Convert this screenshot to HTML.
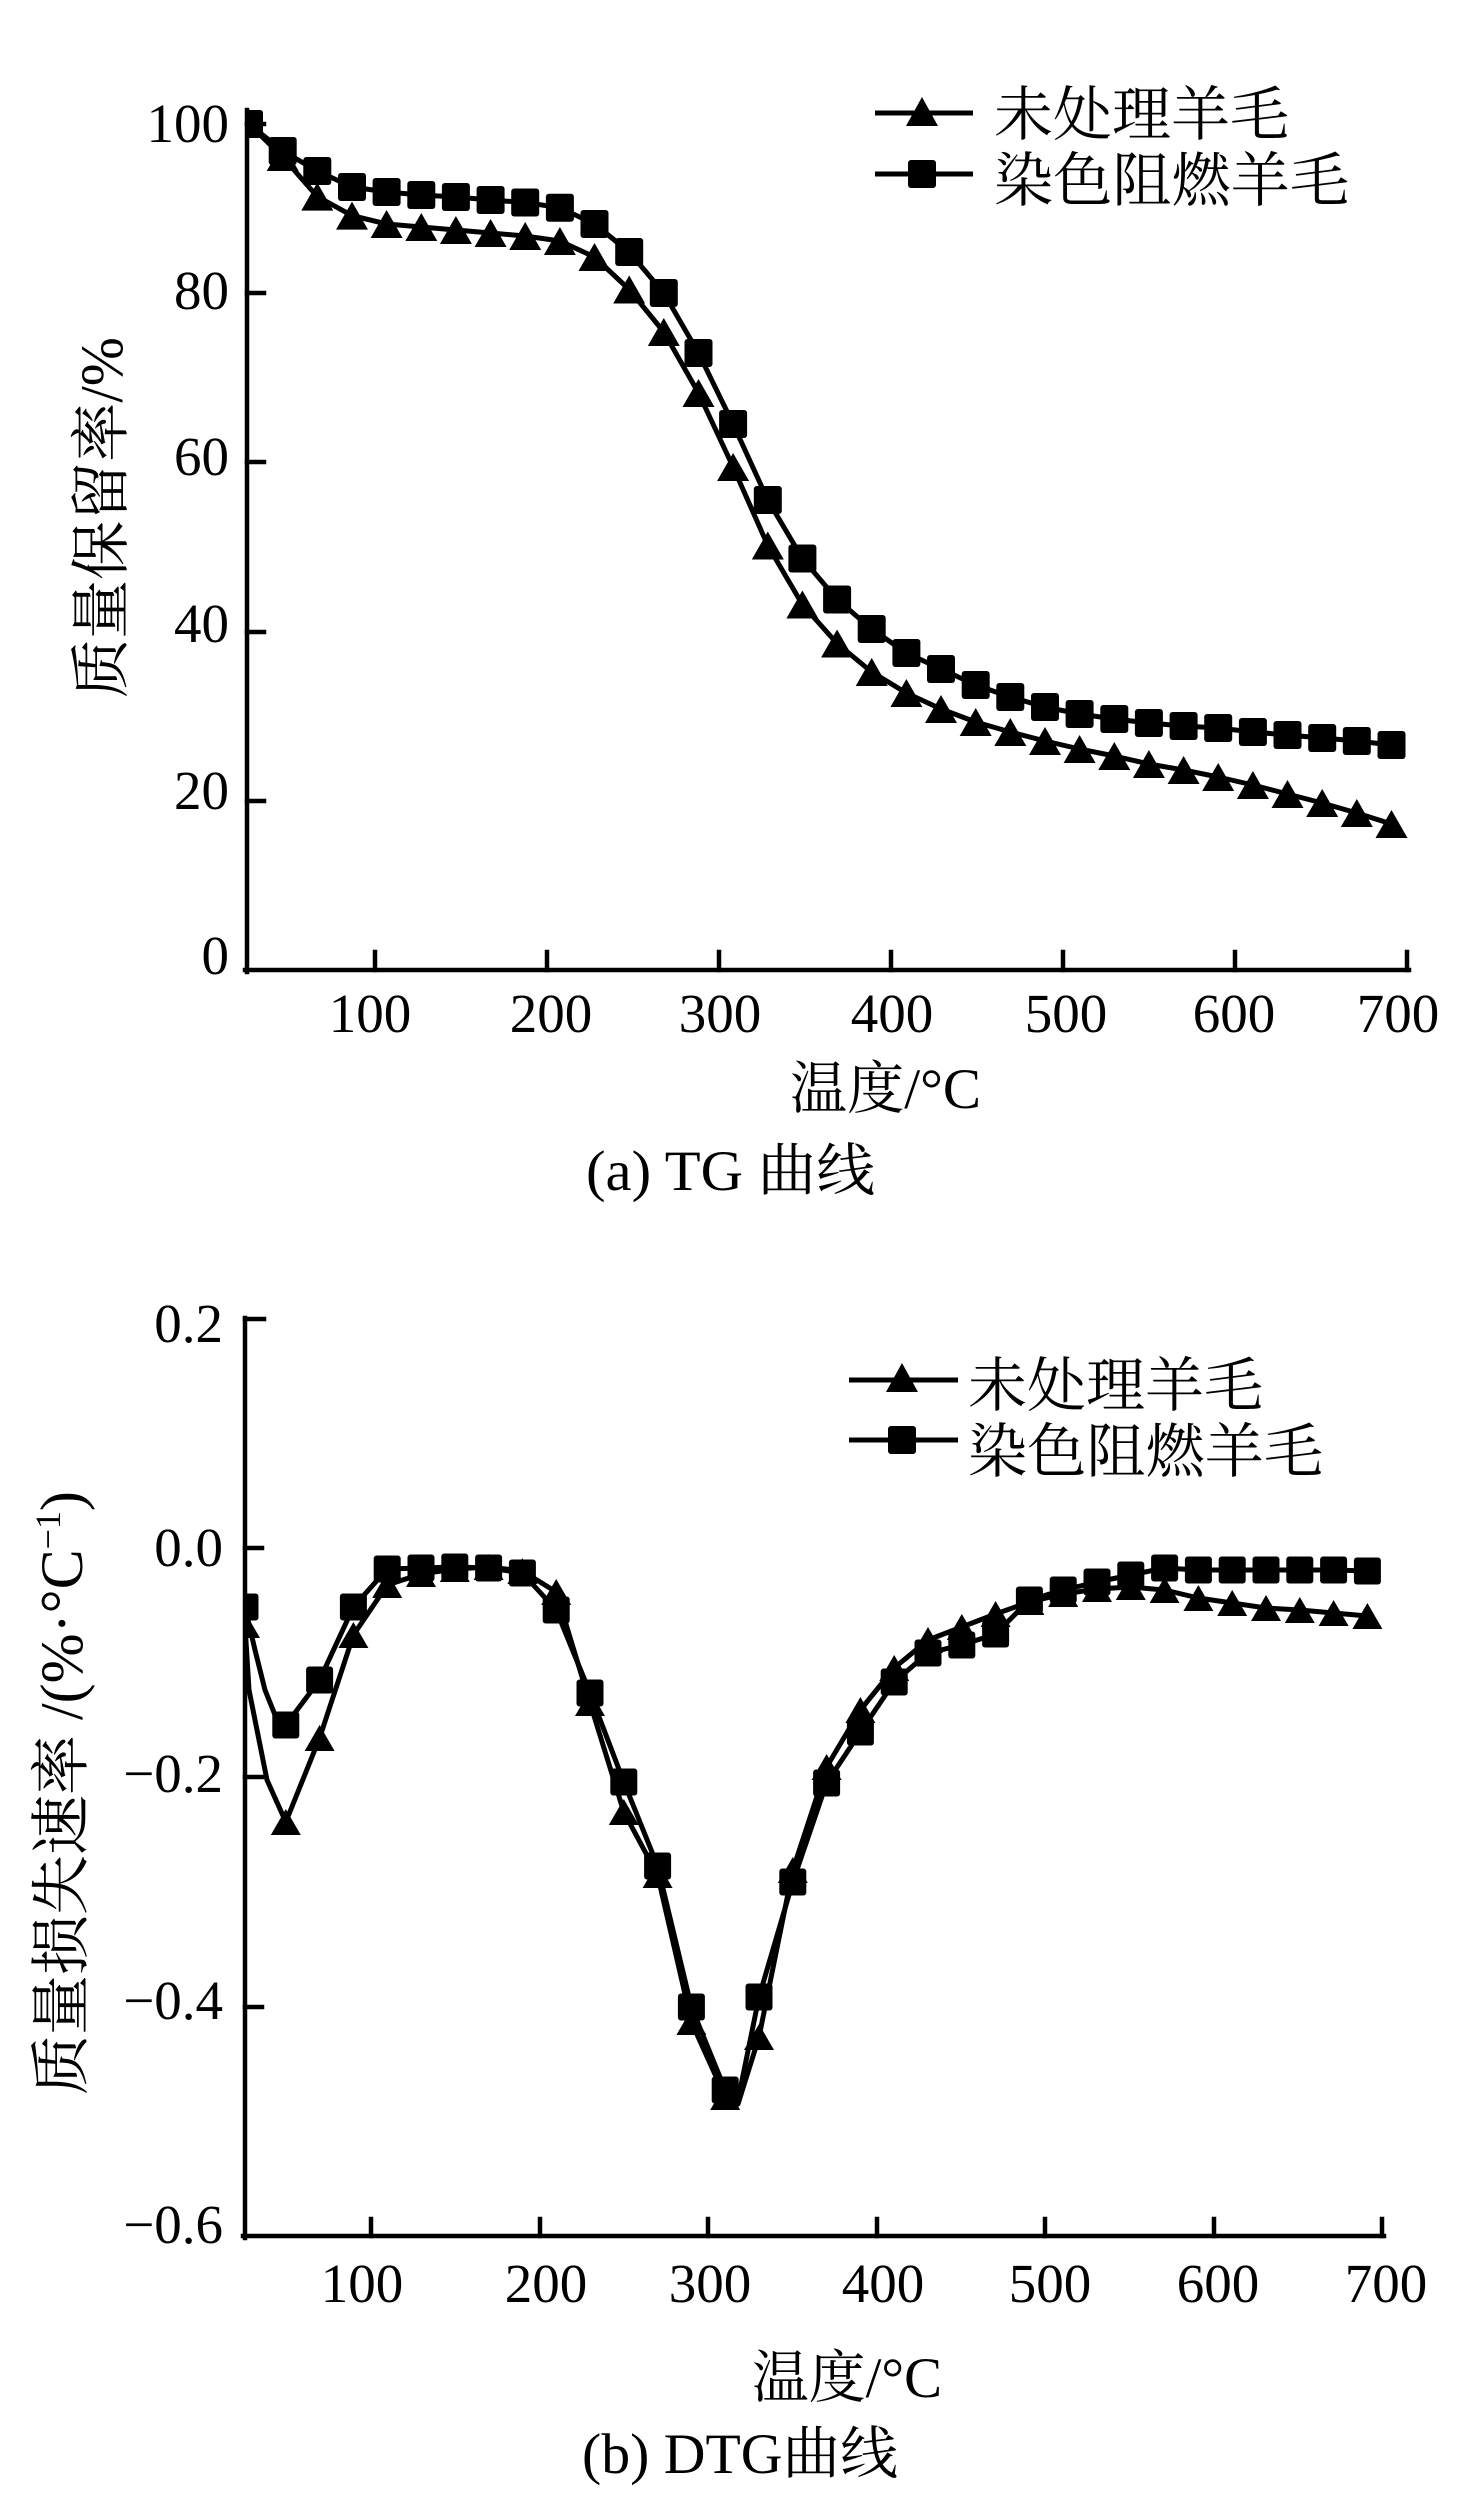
<!DOCTYPE html>
<html><head><meta charset="utf-8"><style>
html,body{margin:0;padding:0;background:#fff;}
svg{display:block;}
.t{font-family:"Liberation Serif","Noto Serif CJK SC",serif;fill:#000;}
</style></head><body>
<svg width="1467" height="2520" viewBox="0 0 1467 2520" xmlns="http://www.w3.org/2000/svg">
<rect width="1467" height="2520" fill="#fff"/>
<defs>
<clipPath id="c1"><rect x="245" y="60" width="1200" height="912"/></clipPath>
<clipPath id="c2"><rect x="244" y="1300" width="1200" height="938"/></clipPath>
</defs>

<!-- ================= TG CHART ================= -->
<g stroke="#000" stroke-width="4.5" fill="none" stroke-linecap="square">
<line x1="247" y1="110" x2="247" y2="972"/>
<line x1="245" y1="970" x2="1409" y2="970"/>
<line x1="247" y1="124" x2="264" y2="124"/>
<line x1="247" y1="293" x2="264" y2="293"/>
<line x1="247" y1="462" x2="264" y2="462"/>
<line x1="247" y1="632" x2="264" y2="632"/>
<line x1="247" y1="801" x2="264" y2="801"/>
<line x1="375" y1="970" x2="375" y2="952"/>
<line x1="547" y1="970" x2="547" y2="952"/>
<line x1="719" y1="970" x2="719" y2="952"/>
<line x1="891" y1="970" x2="891" y2="952"/>
<line x1="1063" y1="970" x2="1063" y2="952"/>
<line x1="1235" y1="970" x2="1235" y2="952"/>
<line x1="1407" y1="970" x2="1407" y2="952"/>
</g>
<g class="t" font-size="55" text-anchor="end">
<text x="229" y="142">100</text>
<text x="229" y="309">80</text>
<text x="229" y="475">60</text>
<text x="229" y="642">40</text>
<text x="229" y="809">20</text>
<text x="229" y="974">0</text>
</g>
<g class="t" font-size="55" text-anchor="middle">
<text x="370" y="1032">100</text>
<text x="551" y="1032">200</text>
<text x="720" y="1032">300</text>
<text x="892" y="1032">400</text>
<text x="1066" y="1032">500</text>
<text x="1234" y="1032">600</text>
<text x="1398" y="1032">700</text>
</g>
<text class="t" font-size="60" transform="translate(122,698) rotate(-90)" textLength="361" lengthAdjust="spacingAndGlyphs">质量保留率/%</text>
<text class="t" font-size="57" x="790" y="1108" textLength="191" lengthAdjust="spacingAndGlyphs">温度/°C</text>
<text class="t" font-size="57" x="586" y="1190" textLength="289" lengthAdjust="spacingAndGlyphs">(a) TG 曲线</text>

<g clip-path="url(#c1)">
<polyline fill="none" stroke="#000" stroke-width="5" stroke-linejoin="round" points="249,124 282.7,157 317.3,196.6 352,215.6 386.6,224 421.3,227 455.9,230 490.6,233 525.2,236 559.9,241 594.5,257 629.2,289.5 663.8,332 698.5,393 733.1,467 767.8,545.5 802.4,604.5 837.1,643.5 871.7,672 906.4,693 941,709 975.7,722 1010.3,732 1045,741 1079.6,749 1114.3,756 1148.9,764 1183.6,770 1218.2,777 1252.9,785 1287.5,794 1322.2,803 1356.8,813 1391.5,824"/>
<g fill="#000">
<path transform="translate(249,124)" d="M0,-14L16,14H-16Z"/>
<path transform="translate(282.7,157)" d="M0,-14L16,14H-16Z"/>
<path transform="translate(317.3,196.6)" d="M0,-14L16,14H-16Z"/>
<path transform="translate(352,215.6)" d="M0,-14L16,14H-16Z"/>
<path transform="translate(386.6,224)" d="M0,-14L16,14H-16Z"/>
<path transform="translate(421.3,227)" d="M0,-14L16,14H-16Z"/>
<path transform="translate(455.9,230)" d="M0,-14L16,14H-16Z"/>
<path transform="translate(490.6,233)" d="M0,-14L16,14H-16Z"/>
<path transform="translate(525.2,236)" d="M0,-14L16,14H-16Z"/>
<path transform="translate(559.9,241)" d="M0,-14L16,14H-16Z"/>
<path transform="translate(594.5,257)" d="M0,-14L16,14H-16Z"/>
<path transform="translate(629.2,289.5)" d="M0,-14L16,14H-16Z"/>
<path transform="translate(663.8,332)" d="M0,-14L16,14H-16Z"/>
<path transform="translate(698.5,393)" d="M0,-14L16,14H-16Z"/>
<path transform="translate(733.1,467)" d="M0,-14L16,14H-16Z"/>
<path transform="translate(767.8,545.5)" d="M0,-14L16,14H-16Z"/>
<path transform="translate(802.4,604.5)" d="M0,-14L16,14H-16Z"/>
<path transform="translate(837.1,643.5)" d="M0,-14L16,14H-16Z"/>
<path transform="translate(871.7,672)" d="M0,-14L16,14H-16Z"/>
<path transform="translate(906.4,693)" d="M0,-14L16,14H-16Z"/>
<path transform="translate(941,709)" d="M0,-14L16,14H-16Z"/>
<path transform="translate(975.7,722)" d="M0,-14L16,14H-16Z"/>
<path transform="translate(1010.3,732)" d="M0,-14L16,14H-16Z"/>
<path transform="translate(1045,741)" d="M0,-14L16,14H-16Z"/>
<path transform="translate(1079.6,749)" d="M0,-14L16,14H-16Z"/>
<path transform="translate(1114.3,756)" d="M0,-14L16,14H-16Z"/>
<path transform="translate(1148.9,764)" d="M0,-14L16,14H-16Z"/>
<path transform="translate(1183.6,770)" d="M0,-14L16,14H-16Z"/>
<path transform="translate(1218.2,777)" d="M0,-14L16,14H-16Z"/>
<path transform="translate(1252.9,785)" d="M0,-14L16,14H-16Z"/>
<path transform="translate(1287.5,794)" d="M0,-14L16,14H-16Z"/>
<path transform="translate(1322.2,803)" d="M0,-14L16,14H-16Z"/>
<path transform="translate(1356.8,813)" d="M0,-14L16,14H-16Z"/>
<path transform="translate(1391.5,824)" d="M0,-14L16,14H-16Z"/>
</g>
<polyline fill="none" stroke="#000" stroke-width="5" stroke-linejoin="round" points="249,124 282.7,151 317.3,171 352,187 386.6,192 421.3,195 455.9,197 490.6,200 525.2,202.5 559.9,207.7 594.5,224 629.2,252 663.8,293 698.5,353 733.1,424 767.8,500 802.4,558.5 837.1,599.5 871.7,629 906.4,653 941,669 975.7,685 1010.3,697 1045,707 1079.6,714 1114.3,719 1148.9,723 1183.6,726 1218.2,728 1252.9,732 1287.5,735 1322.2,738 1356.8,741 1391.5,745"/>
<g fill="#000">
<rect transform="translate(249,124)" x="-14" y="-14" width="28" height="28" rx="3"/>
<rect transform="translate(282.7,151)" x="-14" y="-14" width="28" height="28" rx="3"/>
<rect transform="translate(317.3,171)" x="-14" y="-14" width="28" height="28" rx="3"/>
<rect transform="translate(352,187)" x="-14" y="-14" width="28" height="28" rx="3"/>
<rect transform="translate(386.6,192)" x="-14" y="-14" width="28" height="28" rx="3"/>
<rect transform="translate(421.3,195)" x="-14" y="-14" width="28" height="28" rx="3"/>
<rect transform="translate(455.9,197)" x="-14" y="-14" width="28" height="28" rx="3"/>
<rect transform="translate(490.6,200)" x="-14" y="-14" width="28" height="28" rx="3"/>
<rect transform="translate(525.2,202.5)" x="-14" y="-14" width="28" height="28" rx="3"/>
<rect transform="translate(559.9,207.7)" x="-14" y="-14" width="28" height="28" rx="3"/>
<rect transform="translate(594.5,224)" x="-14" y="-14" width="28" height="28" rx="3"/>
<rect transform="translate(629.2,252)" x="-14" y="-14" width="28" height="28" rx="3"/>
<rect transform="translate(663.8,293)" x="-14" y="-14" width="28" height="28" rx="3"/>
<rect transform="translate(698.5,353)" x="-14" y="-14" width="28" height="28" rx="3"/>
<rect transform="translate(733.1,424)" x="-14" y="-14" width="28" height="28" rx="3"/>
<rect transform="translate(767.8,500)" x="-14" y="-14" width="28" height="28" rx="3"/>
<rect transform="translate(802.4,558.5)" x="-14" y="-14" width="28" height="28" rx="3"/>
<rect transform="translate(837.1,599.5)" x="-14" y="-14" width="28" height="28" rx="3"/>
<rect transform="translate(871.7,629)" x="-14" y="-14" width="28" height="28" rx="3"/>
<rect transform="translate(906.4,653)" x="-14" y="-14" width="28" height="28" rx="3"/>
<rect transform="translate(941,669)" x="-14" y="-14" width="28" height="28" rx="3"/>
<rect transform="translate(975.7,685)" x="-14" y="-14" width="28" height="28" rx="3"/>
<rect transform="translate(1010.3,697)" x="-14" y="-14" width="28" height="28" rx="3"/>
<rect transform="translate(1045,707)" x="-14" y="-14" width="28" height="28" rx="3"/>
<rect transform="translate(1079.6,714)" x="-14" y="-14" width="28" height="28" rx="3"/>
<rect transform="translate(1114.3,719)" x="-14" y="-14" width="28" height="28" rx="3"/>
<rect transform="translate(1148.9,723)" x="-14" y="-14" width="28" height="28" rx="3"/>
<rect transform="translate(1183.6,726)" x="-14" y="-14" width="28" height="28" rx="3"/>
<rect transform="translate(1218.2,728)" x="-14" y="-14" width="28" height="28" rx="3"/>
<rect transform="translate(1252.9,732)" x="-14" y="-14" width="28" height="28" rx="3"/>
<rect transform="translate(1287.5,735)" x="-14" y="-14" width="28" height="28" rx="3"/>
<rect transform="translate(1322.2,738)" x="-14" y="-14" width="28" height="28" rx="3"/>
<rect transform="translate(1356.8,741)" x="-14" y="-14" width="28" height="28" rx="3"/>
<rect transform="translate(1391.5,745)" x="-14" y="-14" width="28" height="28" rx="3"/>
</g>
</g>

<!-- TG legend -->
<g stroke="#000" stroke-width="5">
<line x1="875" y1="113" x2="973" y2="113"/>
<line x1="875" y1="174" x2="973" y2="174"/>
</g>
<path transform="translate(922,112)" d="M0,-15L16,14H-16Z" fill="#000"/>
<rect x="908" y="160" width="28" height="28" rx="3" fill="#000"/>
<text class="t" font-size="59" x="994" y="135" textLength="295" lengthAdjust="spacingAndGlyphs">未处理羊毛</text>
<text class="t" font-size="59" x="994" y="201" textLength="355" lengthAdjust="spacingAndGlyphs">染色阻燃羊毛</text>

<!-- ================= DTG CHART ================= -->
<g stroke="#000" stroke-width="4.5" fill="none" stroke-linecap="square">
<line x1="245" y1="1318" x2="245" y2="2238"/>
<line x1="243" y1="2236" x2="1384" y2="2236"/>
<line x1="245" y1="1319" x2="264" y2="1319"/>
<line x1="245" y1="1548" x2="262" y2="1548"/>
<line x1="245" y1="1777" x2="262" y2="1777"/>
<line x1="245" y1="2007" x2="262" y2="2007"/>
<line x1="371" y1="2236" x2="371" y2="2219"/>
<line x1="540" y1="2236" x2="540" y2="2219"/>
<line x1="708" y1="2236" x2="708" y2="2219"/>
<line x1="877" y1="2236" x2="877" y2="2219"/>
<line x1="1045" y1="2236" x2="1045" y2="2219"/>
<line x1="1214" y1="2236" x2="1214" y2="2219"/>
<line x1="1382" y1="2236" x2="1382" y2="2219"/>
</g>
<g class="t" font-size="55" text-anchor="end">
<text x="223" y="1342">0.2</text>
<text x="223" y="1566">0.0</text>
<text x="223" y="1792">−0.2</text>
<text x="223" y="2019">−0.4</text>
<text x="223" y="2243">−0.6</text>
</g>
<g class="t" font-size="55" text-anchor="middle">
<text x="362" y="2302">100</text>
<text x="546" y="2302">200</text>
<text x="710" y="2302">300</text>
<text x="883" y="2302">400</text>
<text x="1050" y="2302">500</text>
<text x="1218" y="2302">600</text>
<text x="1386" y="2302">700</text>
</g>
<text class="t" font-size="60" transform="translate(82,2095) rotate(-90)">质量损失速率 /(%·°C<tspan font-size="36" dy="-22">−1</tspan><tspan dy="22">)</tspan></text>
<text class="t" font-size="57" x="752" y="2397" textLength="190" lengthAdjust="spacingAndGlyphs">温度/°C</text>
<text class="t" font-size="57" x="582" y="2473" textLength="316" lengthAdjust="spacingAndGlyphs">(b) DTG曲线</text>

<g clip-path="url(#c2)">
<polyline fill="none" stroke="#000" stroke-width="5" stroke-linejoin="round" points="245,1625 249,1690 267,1780 285.8,1822 319.6,1738 353.4,1635 387.2,1585 421,1574 454.8,1569 488.6,1567 522.4,1571 556.2,1592 590,1703 623.8,1812 657.6,1875 691.4,2022 725.2,2097 738,2104 759,2037 792.8,1870 826.6,1767 860.4,1710 894.2,1668 928,1640 961.8,1627 995.6,1614 1029.4,1602 1063.2,1594 1097,1589 1130.8,1587 1164.6,1590 1198.4,1598 1232.2,1603 1266,1608 1299.8,1610 1333.6,1613 1367.4,1616"/>
<g fill="#000">
<path transform="translate(245,1625)" d="M0,-13L15,13H-15Z"/>
<path transform="translate(285.8,1822)" d="M0,-13L15,13H-15Z"/>
<path transform="translate(319.6,1738)" d="M0,-13L15,13H-15Z"/>
<path transform="translate(353.4,1635)" d="M0,-13L15,13H-15Z"/>
<path transform="translate(387.2,1585)" d="M0,-13L15,13H-15Z"/>
<path transform="translate(421,1574)" d="M0,-13L15,13H-15Z"/>
<path transform="translate(454.8,1569)" d="M0,-13L15,13H-15Z"/>
<path transform="translate(488.6,1567)" d="M0,-13L15,13H-15Z"/>
<path transform="translate(522.4,1571)" d="M0,-13L15,13H-15Z"/>
<path transform="translate(556.2,1592)" d="M0,-13L15,13H-15Z"/>
<path transform="translate(590,1703)" d="M0,-13L15,13H-15Z"/>
<path transform="translate(623.8,1812)" d="M0,-13L15,13H-15Z"/>
<path transform="translate(657.6,1875)" d="M0,-13L15,13H-15Z"/>
<path transform="translate(691.4,2022)" d="M0,-13L15,13H-15Z"/>
<path transform="translate(725.2,2097)" d="M0,-13L15,13H-15Z"/>
<path transform="translate(759,2037)" d="M0,-13L15,13H-15Z"/>
<path transform="translate(792.8,1870)" d="M0,-13L15,13H-15Z"/>
<path transform="translate(826.6,1767)" d="M0,-13L15,13H-15Z"/>
<path transform="translate(860.4,1710)" d="M0,-13L15,13H-15Z"/>
<path transform="translate(894.2,1668)" d="M0,-13L15,13H-15Z"/>
<path transform="translate(928,1640)" d="M0,-13L15,13H-15Z"/>
<path transform="translate(961.8,1627)" d="M0,-13L15,13H-15Z"/>
<path transform="translate(995.6,1614)" d="M0,-13L15,13H-15Z"/>
<path transform="translate(1029.4,1602)" d="M0,-13L15,13H-15Z"/>
<path transform="translate(1063.2,1594)" d="M0,-13L15,13H-15Z"/>
<path transform="translate(1097,1589)" d="M0,-13L15,13H-15Z"/>
<path transform="translate(1130.8,1587)" d="M0,-13L15,13H-15Z"/>
<path transform="translate(1164.6,1590)" d="M0,-13L15,13H-15Z"/>
<path transform="translate(1198.4,1598)" d="M0,-13L15,13H-15Z"/>
<path transform="translate(1232.2,1603)" d="M0,-13L15,13H-15Z"/>
<path transform="translate(1266,1608)" d="M0,-13L15,13H-15Z"/>
<path transform="translate(1299.8,1610)" d="M0,-13L15,13H-15Z"/>
<path transform="translate(1333.6,1613)" d="M0,-13L15,13H-15Z"/>
<path transform="translate(1367.4,1616)" d="M0,-13L15,13H-15Z"/>
</g>
<polyline fill="none" stroke="#000" stroke-width="5" stroke-linejoin="round" points="245,1607 255,1650 265,1690 275,1715 285.8,1725 319.6,1680 353.4,1607 387.2,1569 421,1568 454.8,1567 488.6,1568 522.4,1573 556.2,1610 590,1693 623.8,1782 657.6,1866 691.4,2007 725.2,2090 738,2100 759,1997 792.8,1882 826.6,1783 860.4,1732 894.2,1682 928,1653 961.8,1645 995.6,1634 1029.4,1600 1063.2,1590 1097,1582 1130.8,1575 1164.6,1568 1198.4,1570 1232.2,1570 1266,1570 1299.8,1570 1333.6,1570 1367.4,1571"/>
<g fill="#000">
<rect transform="translate(245,1607)" x="-13.5" y="-13.5" width="27" height="27" rx="3"/>
<rect transform="translate(285.8,1725)" x="-13.5" y="-13.5" width="27" height="27" rx="3"/>
<rect transform="translate(319.6,1680)" x="-13.5" y="-13.5" width="27" height="27" rx="3"/>
<rect transform="translate(353.4,1607)" x="-13.5" y="-13.5" width="27" height="27" rx="3"/>
<rect transform="translate(387.2,1569)" x="-13.5" y="-13.5" width="27" height="27" rx="3"/>
<rect transform="translate(421,1568)" x="-13.5" y="-13.5" width="27" height="27" rx="3"/>
<rect transform="translate(454.8,1567)" x="-13.5" y="-13.5" width="27" height="27" rx="3"/>
<rect transform="translate(488.6,1568)" x="-13.5" y="-13.5" width="27" height="27" rx="3"/>
<rect transform="translate(522.4,1573)" x="-13.5" y="-13.5" width="27" height="27" rx="3"/>
<rect transform="translate(556.2,1610)" x="-13.5" y="-13.5" width="27" height="27" rx="3"/>
<rect transform="translate(590,1693)" x="-13.5" y="-13.5" width="27" height="27" rx="3"/>
<rect transform="translate(623.8,1782)" x="-13.5" y="-13.5" width="27" height="27" rx="3"/>
<rect transform="translate(657.6,1866)" x="-13.5" y="-13.5" width="27" height="27" rx="3"/>
<rect transform="translate(691.4,2007)" x="-13.5" y="-13.5" width="27" height="27" rx="3"/>
<rect transform="translate(725.2,2090)" x="-13.5" y="-13.5" width="27" height="27" rx="3"/>
<rect transform="translate(759,1997)" x="-13.5" y="-13.5" width="27" height="27" rx="3"/>
<rect transform="translate(792.8,1882)" x="-13.5" y="-13.5" width="27" height="27" rx="3"/>
<rect transform="translate(826.6,1783)" x="-13.5" y="-13.5" width="27" height="27" rx="3"/>
<rect transform="translate(860.4,1732)" x="-13.5" y="-13.5" width="27" height="27" rx="3"/>
<rect transform="translate(894.2,1682)" x="-13.5" y="-13.5" width="27" height="27" rx="3"/>
<rect transform="translate(928,1653)" x="-13.5" y="-13.5" width="27" height="27" rx="3"/>
<rect transform="translate(961.8,1645)" x="-13.5" y="-13.5" width="27" height="27" rx="3"/>
<rect transform="translate(995.6,1634)" x="-13.5" y="-13.5" width="27" height="27" rx="3"/>
<rect transform="translate(1029.4,1600)" x="-13.5" y="-13.5" width="27" height="27" rx="3"/>
<rect transform="translate(1063.2,1590)" x="-13.5" y="-13.5" width="27" height="27" rx="3"/>
<rect transform="translate(1097,1582)" x="-13.5" y="-13.5" width="27" height="27" rx="3"/>
<rect transform="translate(1130.8,1575)" x="-13.5" y="-13.5" width="27" height="27" rx="3"/>
<rect transform="translate(1164.6,1568)" x="-13.5" y="-13.5" width="27" height="27" rx="3"/>
<rect transform="translate(1198.4,1570)" x="-13.5" y="-13.5" width="27" height="27" rx="3"/>
<rect transform="translate(1232.2,1570)" x="-13.5" y="-13.5" width="27" height="27" rx="3"/>
<rect transform="translate(1266,1570)" x="-13.5" y="-13.5" width="27" height="27" rx="3"/>
<rect transform="translate(1299.8,1570)" x="-13.5" y="-13.5" width="27" height="27" rx="3"/>
<rect transform="translate(1333.6,1570)" x="-13.5" y="-13.5" width="27" height="27" rx="3"/>
<rect transform="translate(1367.4,1571)" x="-13.5" y="-13.5" width="27" height="27" rx="3"/>
</g>
</g>

<!-- DTG legend -->
<g stroke="#000" stroke-width="5">
<line x1="849" y1="1380" x2="958" y2="1380"/>
<line x1="849" y1="1440" x2="958" y2="1440"/>
</g>
<path transform="translate(902,1378)" d="M0,-15L16,14H-16Z" fill="#000"/>
<rect x="888" y="1426" width="28" height="28" rx="3" fill="#000"/>
<text class="t" font-size="59" x="968" y="1406" textLength="295" lengthAdjust="spacingAndGlyphs">未处理羊毛</text>
<text class="t" font-size="59" x="968" y="1472" textLength="355" lengthAdjust="spacingAndGlyphs">染色阻燃羊毛</text>
</svg>
</body></html>
